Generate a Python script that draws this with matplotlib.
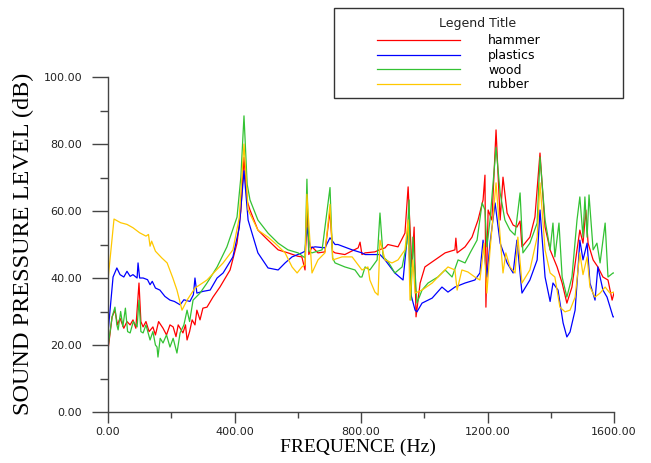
import matplotlib
matplotlib.use("Agg")
import matplotlib.pyplot as plt
from matplotlib.patches import Rectangle
from matplotlib.ticker import MultipleLocator, FormatStrFormatter

# values (frequency in Hz, level in dB)
hammerFreq = [0, 13, 22, 30, 38, 50, 60, 70, 79, 88, 98, 104, 111, 120, 130, 142, 150, 160, 174, 185,
              196, 206, 215, 222, 237, 245, 250, 258, 266, 275, 281, 291, 300, 313, 332, 354, 386, 408,
              420, 430, 440, 449, 474, 506, 538, 569, 600, 613, 623, 629, 635, 645, 664, 686, 702, 710,
              718, 749, 791, 797, 803, 813, 844, 860, 876, 885, 917, 939, 949, 955, 961, 968, 974, 987,
              1002, 1034, 1066, 1097, 1100, 1104, 1129, 1151, 1170, 1186, 1192, 1195, 1202, 1214, 1227,
              1240, 1249, 1262, 1281, 1293, 1303, 1309, 1334, 1350, 1366, 1382, 1398, 1420, 1436, 1451,
              1467, 1483, 1492, 1502, 1511, 1518, 1534, 1549, 1565, 1581, 1594, 1600]
hammerDb = [18.5, 28.4, 30.4, 26, 28, 25, 27, 26, 27.5, 25, 38.5, 27, 25.4, 27, 24, 25.4, 23, 27, 25, 23,
            26, 25.4, 22.5, 26, 23.6, 26, 21.5, 24, 27.5, 26, 30.4, 27.5, 31, 31.3, 34.3, 37.3, 42.4, 50.4,
            60, 76, 63, 60.3, 54.3, 51.3, 48.4, 47.5, 46.5, 46.3, 42.4, 62, 47, 49.3, 47.5, 47.8, 60, 48,
            47.5, 47, 49, 50.7, 47, 47.5, 47.8, 48.5, 49, 50, 49.3, 53.4, 67.2, 55, 43.3, 55.2, 28.4, 38.5,
            43.3, 45.4, 47.5, 48.4, 51.9, 47.5, 49.3, 52.2, 57.3, 63.3, 70.7, 31.3, 60.3, 57.3, 84.2,
            57.3, 70.1, 59.4, 55.8, 55.2, 57, 49.3, 52.2, 58.2, 77.3, 55.2, 48.4, 43.3, 38.5, 32.5,
            37.3, 48.4, 54.3, 50.4, 60.3, 50.4, 45.4, 43.3, 40.3, 39.4, 33.4, 35.5]

plasticsFreq = [0, 16, 28, 38, 50, 60, 70, 79, 92, 95, 100, 111, 125, 133, 140, 150, 164, 180, 196, 210,
                228, 240, 259, 270, 275, 281, 300, 323, 345, 364, 395, 415, 430, 443, 474, 506, 538, 560,
                582, 613, 623, 629, 640, 655, 686, 702, 718, 727, 772, 803, 813, 844, 860, 876, 907, 933,
                949, 958, 971, 977, 993, 1025, 1056, 1075, 1097, 1129, 1160, 1176, 1186, 1189, 1198, 1208,
                1224, 1240, 1262, 1281, 1293, 1309, 1334, 1357, 1366, 1382, 1398, 1407, 1423, 1439, 1451,
                1461, 1477, 1486, 1492, 1502, 1515, 1524, 1540, 1549, 1565, 1578, 1597, 1600]
plasticsDb = [23.6, 40.3, 43, 41, 40.3, 42, 40.5, 41, 40, 44.5, 40, 40, 39.5, 38, 39, 37, 36.4, 34.5, 33.4, 33,
              32, 33.5, 33, 35, 40, 35.5, 36, 36.4, 40, 41.5, 46.3, 55, 72, 57.3, 47.5, 43, 42.4, 44.5,
              46.3, 47.5, 48, 55, 49, 49.3, 49, 52, 50, 50, 48.4, 47.5, 47, 47, 47, 45.4, 41.5, 39.4,
              55, 35, 30.4, 29.9, 32.5, 34, 37.3, 35.8, 37.3, 38.5, 39.4, 41.5, 51.3, 48.4, 40.3, 50.4,
              62.4, 50.4, 44.5, 41.5, 51.3, 35.5, 39.4, 45.4, 60.3, 40.3, 33, 38.5, 36.4, 26.6, 22.4,
              23.9, 30.4, 42.4, 51.3, 45.4, 50.4, 38.5, 33.4, 43.3, 36.4, 34.3, 28.4, 28.4]

woodFreq = [0, 13, 22, 28, 32, 40, 47, 55, 62, 70, 80, 92, 98, 104, 111, 120, 133, 142, 150, 155, 158, 165,
            174, 185, 196, 206, 218, 228, 240, 250, 258, 269, 291, 313, 345, 376, 408, 420, 430, 440, 449,
            474, 506, 538, 569, 601, 623, 629, 635, 645, 677, 702, 710, 718, 749, 781, 797, 803, 813, 828,
            851, 860, 870, 885, 907, 930, 945, 952, 958, 964, 977, 993, 1012, 1043, 1066, 1088, 1107, 1129,
            1145, 1167, 1183, 1192, 1198, 1208, 1227, 1240, 1255, 1271, 1287, 1303, 1312, 1334, 1357, 1366,
            1382, 1398, 1407, 1413, 1426, 1436, 1451, 1467, 1483, 1492, 1502, 1508, 1515, 1521, 1534, 1546,
            1556, 1572, 1581, 1597, 1600]
woodDb = [19.4, 28.4, 31.3, 26, 24.5, 30, 25.5, 31, 24, 23.6, 27, 25.4, 33.4, 24, 23.6, 26, 21.5, 24, 20,
          19.4, 16.4, 22, 20.6, 23, 19.4, 22, 17.6, 23.6, 26, 30.4, 27, 33.4, 35.5, 38.5, 43.3, 49.3, 58.2,
          70, 88.4, 68, 63.3, 57.3, 53.4, 50.4, 48.4, 47.5, 46, 69.5, 48, 47.5, 48.4, 67, 46, 44.5, 43.3,
          42.4, 40.3, 40.3, 43.3, 42.4, 45.4, 59.4, 46.3, 45, 41.5, 43.3, 50.4, 63.3, 33.4, 52.2, 32.5,
          36.4, 38.5, 40.3, 42.4, 40.3, 45.4, 44.5, 47.5, 51.3, 62.4, 60.3, 49.3, 57.3, 79, 65.4, 57.3,
          54.3, 52.8, 65.4, 47.5, 50.4, 56.4, 76.1, 57.3, 48.4, 56.4, 46.3, 56.4, 40.3, 34.3, 40.3, 57.3,
          64.2, 52.2, 64.2, 52.2, 64.8, 48.4, 50.4, 44.5, 56.4, 40.3, 41.5, 41.5]

rubberFreq = [0, 19, 40, 60, 79, 100, 120, 128, 133, 138, 150, 170, 187, 205, 218, 234, 250, 275, 313, 364,
              395, 415, 430, 443, 474, 506, 528, 560, 582, 598, 613, 623, 629, 645, 664, 686, 702, 711, 740,
              772, 803, 822, 828, 844, 854, 860, 876, 898, 917, 939, 949, 955, 964, 971, 993, 1025, 1056,
              1075, 1097, 1104, 1119, 1138, 1160, 1176, 1186, 1189, 1198, 1208, 1227, 1240, 1249, 1258,
              1271, 1287, 1296, 1309, 1334, 1357, 1366, 1382, 1398, 1413, 1429, 1445, 1461, 1477, 1492,
              1502, 1515, 1524, 1540, 1556, 1572, 1587, 1600]
rubberDb = [39.4, 57.6, 56.5, 56, 55, 53.5, 52.5, 53, 49.5, 51, 48, 46, 44.5, 40, 36.4, 30.4, 33.4, 37, 39.4,
            44.5, 48.4, 58, 80, 60.3, 54.3, 52.2, 50.4, 47.5, 43.3, 41.5, 43.3, 44, 65, 41.5, 45.4, 47.5,
            62, 45.4, 46.3, 46.3, 42.4, 43.3, 39.4, 35.8, 34.9, 51.3, 45.4, 44.5, 45.4, 48.4, 57.3, 33.4,
            45.4, 35.5, 36.4, 38.5, 41.5, 43.3, 42.4, 36.4, 42.4, 41.8, 40.3, 39.4, 47.5, 50.4, 35.5, 48.4,
            68.4, 52.2, 41.5, 47.5, 43.3, 41.5, 52.2, 38.5, 42.4, 52.2, 68.4, 48.4, 41.5, 40.3, 31.3,
            29.9, 30.4, 34.3, 47.5, 41, 46.3, 37.3, 34.3, 35.5, 37.3, 35.5, 35.8]

seriesLabels = ["hammer", "plastics", "wood", "rubber"]
seriesColors = ["#ff0000", "#0000ff", "#33c233", "#ffc800"]

fig = plt.figure(figsize=(6.51, 4.63), dpi=100)
ax = fig.add_axes([108/651, 1-412/463, 506/651, 335/463])

allSeries = [(hammerFreq, hammerDb), (plasticsFreq, plasticsDb), (woodFreq, woodDb), (rubberFreq, rubberDb)]
for (xs, ys), lab, col in zip(allSeries, seriesLabels, seriesColors):
    ax.plot(xs, ys, color=col, lw=0.9, label=lab)

ax.set_xlim(0, 1600)
ax.set_ylim(0, 100)

# axis styling: only left and bottom spines, ticks pointing out
for side in ["top", "right"]:
    ax.spines[side].set_visible(False)
for side in ["left", "bottom"]:
    ax.spines[side].set_color("#444444")
    ax.spines[side].set_linewidth(1.0)

ax.xaxis.set_major_locator(MultipleLocator(400))
ax.xaxis.set_minor_locator(MultipleLocator(200))
ax.yaxis.set_major_locator(MultipleLocator(20))
ax.yaxis.set_minor_locator(MultipleLocator(10))
ax.xaxis.set_major_formatter(FormatStrFormatter("%.2f"))
ax.yaxis.set_major_formatter(FormatStrFormatter("%.2f"))

ax.tick_params(axis="y", which="major", direction="out", length=11.5, width=1, color="#444444",
               pad=7, labelsize=8, labelcolor="#222222")
ax.tick_params(axis="y", which="minor", direction="out", length=5.8, width=1, color="#444444")
ax.tick_params(axis="x", which="major", direction="out", length=8, width=1, color="#444444",
               pad=2.5, labelsize=8, labelcolor="#222222")
ax.tick_params(axis="x", which="minor", direction="out", length=4, width=1, color="#444444")

ax.set_xlabel("FREQUENCE (Hz)", family="Liberation Serif", fontsize=14)
ax.set_ylabel("SOUND PRESSURE LEVEL (dB)", family="Liberation Serif", fontsize=17.5)
ax.xaxis.set_label_coords(0.493, -0.081)
ax.yaxis.set_label_coords(-0.146, 0.502)

# legend box drawn in figure coordinates, entries placed inside it
fig.patches.append(Rectangle((334/651, 1-98/463), 289/651, 90/463, transform=fig.transFigure,
                             facecolor="white", edgecolor="#333333", lw=1.0, zorder=0))
fig.text(478/651, 1-24/463, "Legend Title", ha="center", va="center", fontsize=9, color="#222222")
leg = fig.legend(loc="upper left", bbox_to_anchor=(377/651, 1-34.5/463), frameon=False,
                 fontsize=9, handlelength=6.6, handletextpad=2.3, labelspacing=0.12,
                 borderpad=0, borderaxespad=0)

fig.savefig("out.png", dpi=100)
